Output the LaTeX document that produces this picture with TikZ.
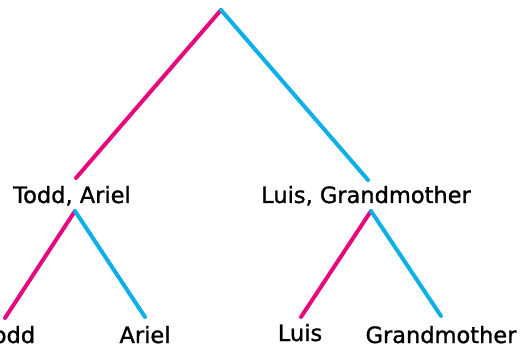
\documentclass[tikz,border=0pt]{standalone}
\usepackage{fontspec}
\setmainfont[FakeBold=1.2,BoldFont=DejaVu Sans]{DejaVu Sans}
\definecolor{pinkline}{HTML}{E6097E}
\definecolor{blueline}{HTML}{0EAEE8}
\begin{document}
\begin{tikzpicture}[x=1pt,y=-1pt,
  lbl/.style={anchor=base,font=\fontsize{22.5}{24}\selectfont\bfseries,inner sep=0pt},
  pinkedge/.style={draw=pinkline,line width=4pt,line cap=round},
  blueedge/.style={draw=blueline,line width=4pt,line cap=round}]
\useasboundingbox (0,0) rectangle (521,347);
\coordinate (root) at (221,10);
\coordinate (lt) at (76,178);
\coordinate (rt) at (368,180);
\coordinate (la) at (75,211);
\coordinate (ra) at (371,211);
\coordinate (ll) at (5,318);
\coordinate (lr) at (145,317);
\coordinate (rl) at (301,317);
\coordinate (rr) at (441,316);
\node[lbl] (toddariel) at (72,203) {Todd, Ariel};
\node[lbl] (luisgm) at (366,203) {Luis, Grandmother};
\node[lbl] (todd) at (9,343) {Todd};
\node[lbl] (ariel) at (145,343) {Ariel};
\node[lbl] (luis) at (300,341) {Luis};
\node[lbl] (gm) at (441,343) {Grandmother};
\draw[pinkedge] (root) -- (lt);
\draw[blueedge] (root) -- (rt);
\draw[pinkedge] (la) -- (ll);
\draw[blueedge] (la) -- (lr);
\draw[pinkedge] (ra) -- (rl);
\draw[blueedge] (ra) -- (rr);
\end{tikzpicture}
\end{document}
